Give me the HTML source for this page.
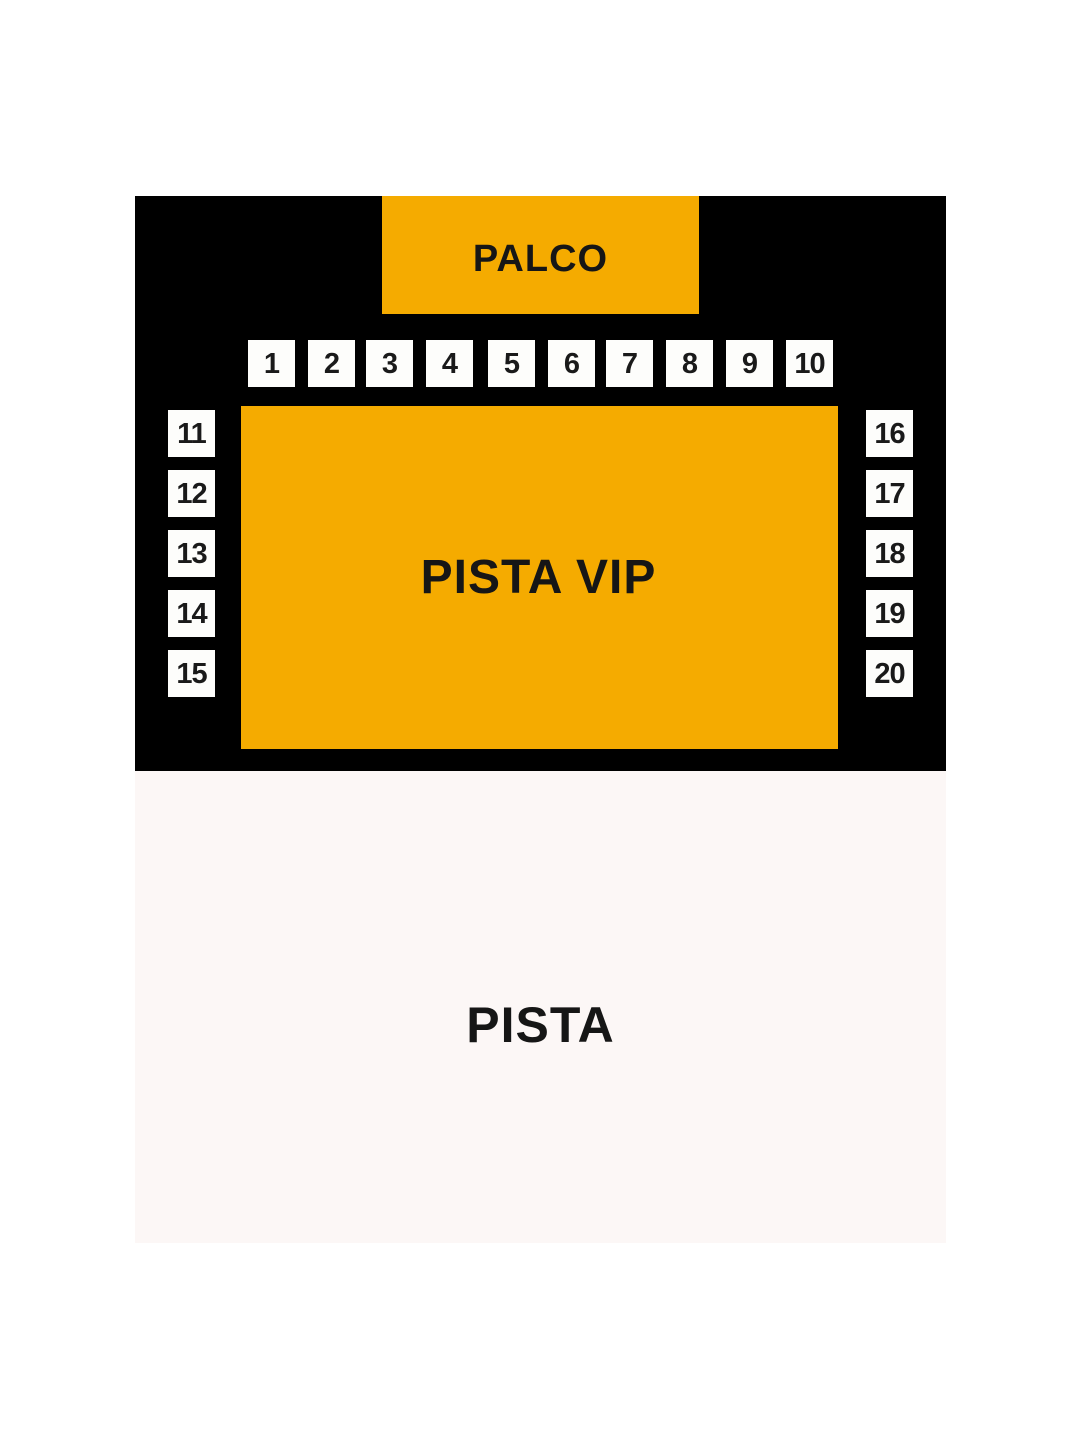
<!DOCTYPE html>
<html><head><style>
body{margin:0;width:1080px;height:1440px;background:#fff;position:relative;font-family:"Liberation Sans",sans-serif;overflow:hidden}
div{position:absolute;box-sizing:border-box}
.b{width:47px;height:47px;background:#fdfdfb;color:#1a1a1a;font-weight:bold;font-size:29px;display:flex;align-items:center;justify-content:center;letter-spacing:-1px;padding-top:2px}
.c{display:flex;align-items:center;justify-content:center;color:#161616;font-weight:bold}
</style></head><body>
<div style="left:135px;top:196px;width:811px;height:575px;background:#000"></div>
<div class="c" style="left:382px;top:196px;width:317px;height:118px;background:#f5ab00;font-size:38px;letter-spacing:1px;padding-top:8px">PALCO</div>
<div class="c" style="left:241px;top:406px;width:597px;height:343px;background:#f5ab00;font-size:48px;letter-spacing:1px;padding-right:2px">PISTA VIP</div>
<div class="c" style="left:135px;top:771px;width:811px;height:472px;background:#fcf7f6;font-size:50px;letter-spacing:1px;padding-top:36px">PISTA</div>
<div class="b" style="left:248px;top:340px">1</div>
<div class="b" style="left:308px;top:340px">2</div>
<div class="b" style="left:366px;top:340px">3</div>
<div class="b" style="left:426px;top:340px">4</div>
<div class="b" style="left:488px;top:340px">5</div>
<div class="b" style="left:548px;top:340px">6</div>
<div class="b" style="left:606px;top:340px">7</div>
<div class="b" style="left:666px;top:340px">8</div>
<div class="b" style="left:726px;top:340px">9</div>
<div class="b" style="left:786px;top:340px">10</div>
<div class="b" style="left:168px;top:410px">11</div>
<div class="b" style="left:168px;top:470px">12</div>
<div class="b" style="left:168px;top:530px">13</div>
<div class="b" style="left:168px;top:590px">14</div>
<div class="b" style="left:168px;top:650px">15</div>
<div class="b" style="left:866px;top:410px">16</div>
<div class="b" style="left:866px;top:470px">17</div>
<div class="b" style="left:866px;top:530px">18</div>
<div class="b" style="left:866px;top:590px">19</div>
<div class="b" style="left:866px;top:650px">20</div>
</body></html>
